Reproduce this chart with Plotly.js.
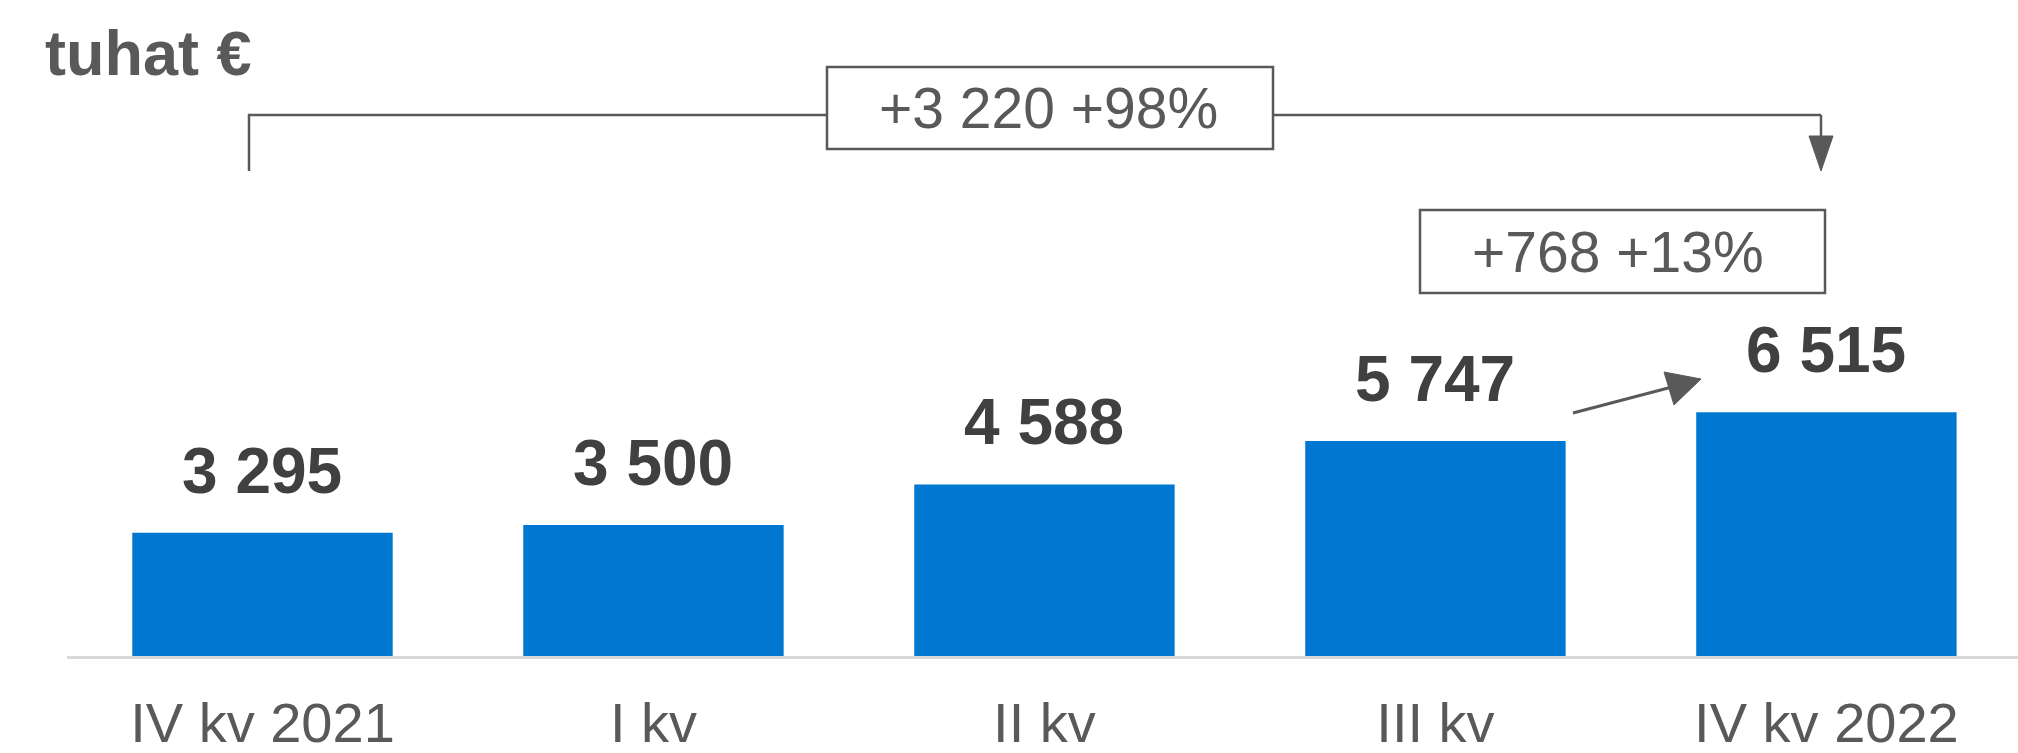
<!DOCTYPE html>
<html>
<head>
<meta charset="utf-8">
<script src="https://cdn.plot.ly/plotly-3.0.1.min.js"></script>
<style>html,body{margin:0;padding:0;background:#fff;}#chart{width:2018px;height:753px;}</style>
</head>
<body>
<div id="chart"></div>
<script>
// ---- data ----
const categories = ["IV kv 2021", "I kv", "II kv", "III kv", "IV kv 2022"];
const values = [3295, 3500, 4588, 5747, 6515];
const unitLabel = "tuhat €";
const changeYear = "+3 220 +98%";
const changeQuarter = "+768 +13%";

// ---- layout helpers (pixel -> paper) ----
const L = 67, W = 1951, B = 656, H = 656;
const px = x => (x - L) / W;
const py = y => (B - y) / H;
const grey = "#595959";
const fmt = v => String(v).replace(/\B(?=(\d{3})+(?!\d))/g, " ");

function line(x0, y0, x1, y1, w) {
  return {type: "line", xref: "paper", yref: "paper", x0: px(x0), y0: py(y0), x1: px(x1), y1: py(y1),
          line: {color: grey, width: w || 2.5}};
}
function tri(pts) {
  const p = pts.map((q, i) => (i ? "L" : "M") + px(q[0]) + "," + py(q[1])).join(" ") + " Z";
  return {type: "path", xref: "paper", yref: "paper", path: p, fillcolor: grey, line: {color: grey, width: 1}};
}
function rect(x0, y0, x1, y1) {
  return {type: "rect", xref: "paper", yref: "paper", x0: px(x0), y0: py(y0), x1: px(x1), y1: py(y1),
          line: {color: grey, width: 2.5}, fillcolor: "#ffffff"};
}

const shapes = [
  line(249, 114, 249, 171),
  line(248, 115, 827, 115),
  line(1273, 115, 1821, 115),
  line(1821, 115, 1821, 140),
  tri([[1809, 136], [1833, 136], [1821, 171]]),
  rect(827, 67, 1273, 149),
  rect(1420, 210, 1825, 293),
  line(1573, 413, 1672, 387, 3),
  tri([[1701, 379], [1664, 372], [1674, 405]])
];

const annotations = values.map((v, i) => ({
  x: categories[i], y: v, xref: "x", yref: "y", text: fmt(v), showarrow: false,
  xanchor: "center", yanchor: "bottom", yshift: 24,
  font: {family: "Liberation Sans, Arial, sans-serif", size: 64, color: "#404040", weight: "bold"}
}));
annotations.push({
  xref: "paper", yref: "paper", x: px(1048), y: py(108), text: changeYear, showarrow: false,
  xanchor: "center", yanchor: "middle",
  font: {family: "Liberation Sans, Arial, sans-serif", size: 57, color: grey}
});
annotations.push({
  xref: "paper", yref: "paper", x: px(1618), y: py(251.5), text: changeQuarter, showarrow: false,
  xanchor: "center", yanchor: "middle",
  font: {family: "Liberation Sans, Arial, sans-serif", size: 57, color: grey}
});

const trace = {
  type: "bar", x: categories, y: values,
  marker: {color: "#0077D0", line: {width: 0}},
  hoverinfo: "skip"
};

const layout = {
  width: 2018, height: 753,
  margin: {l: L, r: 0, t: 0, b: 753 - B},
  paper_bgcolor: "#ffffff", plot_bgcolor: "#ffffff",
  showlegend: false,
  bargap: 0.334,
  title: {
    text: unitLabel, xref: "container", yref: "container", x: 45 / 2018, xanchor: "left",
    y: 1 - 31 / 753, yanchor: "top",
    font: {family: "Liberation Sans, Arial, sans-serif", size: 63, color: grey, weight: "bold"}
  },
  xaxis: {
    type: "category", range: [-0.5, 4.49],
    showline: true, linecolor: "#d9d9d9", linewidth: 3,
    ticks: "", showgrid: false, zeroline: false,
    ticklabelstandoff: 16,
    tickfont: {family: "Liberation Sans, Arial, sans-serif", size: 56, color: grey}
  },
  yaxis: {range: [0, 17540], visible: false, showgrid: false, zeroline: false},
  shapes: shapes,
  annotations: annotations
};

Plotly.newPlot("chart", [trace], layout, {staticPlot: true, displayModeBar: false});
</script>
</body>
</html>
